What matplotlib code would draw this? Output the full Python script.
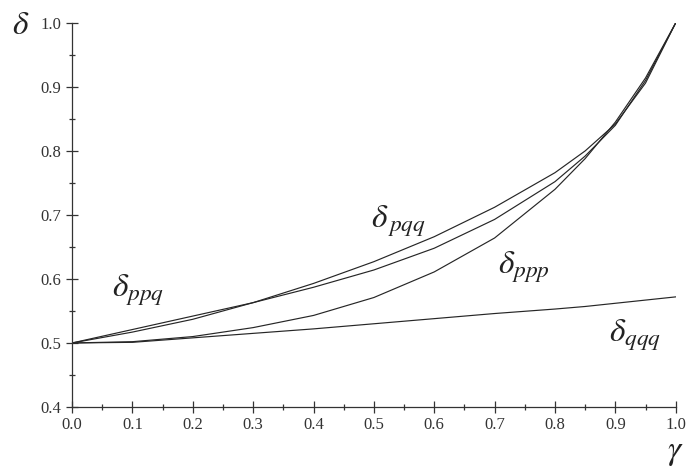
import numpy as np
import matplotlib
matplotlib.use('Agg')
import matplotlib.pyplot as plt
from matplotlib.ticker import MultipleLocator

plt.rcParams['font.family'] = 'Liberation Serif'
plt.rcParams['mathtext.fontset'] = 'stix'

# values
gamma = [0.0, 0.1, 0.2, 0.3, 0.4, 0.5, 0.6, 0.7, 0.8, 0.85, 0.9, 0.95, 1.0]
d_ppq = [0.5, 0.521, 0.542, 0.563, 0.587, 0.614, 0.648, 0.693, 0.752, 0.792, 0.840, 0.910, 1.0]
d_pqq = [0.5, 0.517, 0.537, 0.563, 0.593, 0.627, 0.666, 0.712, 0.766, 0.800, 0.842, 0.906, 1.0]
d_ppp = [0.5, 0.502, 0.510, 0.524, 0.543, 0.571, 0.611, 0.664, 0.740, 0.788, 0.845, 0.914, 1.0]
d_qqq = [0.5, 0.501, 0.508, 0.515, 0.522, 0.530, 0.538, 0.546, 0.553, 0.557, 0.562, 0.567, 0.572]

fig = plt.figure(figsize=(6.86, 4.67), dpi=100)
ax = fig.add_axes([0.105, 0.1285, 0.880, 0.8225])

lc = '#262626'
for ys in (d_ppq, d_pqq, d_ppp, d_qqq):
    ax.plot(gamma, ys, color=lc, lw=0.85)

ax.set_xlim(0, 1)
ax.set_ylim(0.4, 1.0)
ax.xaxis.set_major_locator(MultipleLocator(0.1))
ax.xaxis.set_minor_locator(MultipleLocator(0.05))
ax.yaxis.set_major_locator(MultipleLocator(0.1))
ax.yaxis.set_minor_locator(MultipleLocator(0.05))
ax.xaxis.set_major_formatter(plt.FormatStrFormatter('%.1f'))
ax.yaxis.set_major_formatter(plt.FormatStrFormatter('%.1f'))

for s in ('top', 'right'):
    ax.spines[s].set_visible(False)
for s in ('left', 'bottom'):
    ax.spines[s].set_color('#333333')
    ax.spines[s].set_linewidth(0.9)

ax.tick_params(which='major', direction='inout', length=9, width=0.9,
               colors='#333333', labelsize=12, labelcolor='#333333')
ax.tick_params(which='minor', direction='inout', length=4.5, width=0.9,
               colors='#333333')
ax.tick_params(axis='x', pad=3)
ax.tick_params(axis='y', pad=3)

# curve labels
txt = dict(fontsize=24, color='#222222', va='center', ha='left')
ax.text(0.066, 0.582, r'$\delta_{ppq}$', **txt)
ax.text(0.495, 0.690, r'$\delta_{\,pqq}$', **txt)
ax.text(0.705, 0.618, r'$\delta_{ppp}$', **txt)
ax.text(0.890, 0.512, r'$\delta_{qqq}$', **txt)

# axis labels
fig.text(0.017, 0.945, r'$\delta$', fontsize=24, color='#222222', va='center')
fig.text(0.972, 0.030, r'$\gamma$', fontsize=24, color='#222222', va='center')

fig.savefig('out.png', dpi=100)
